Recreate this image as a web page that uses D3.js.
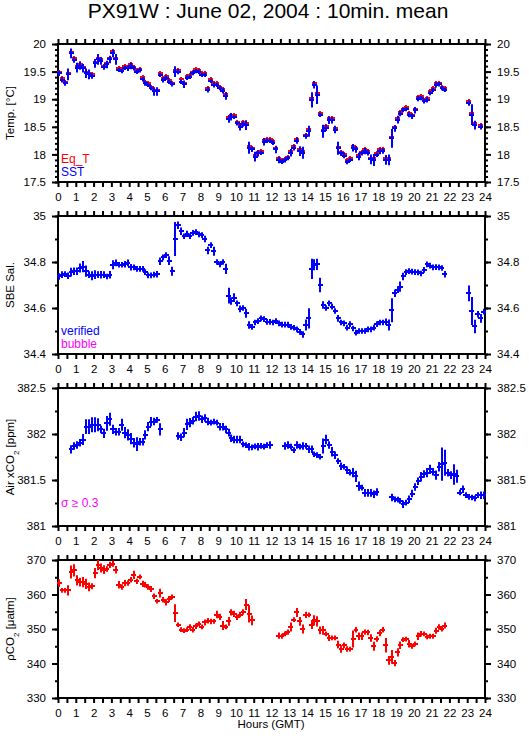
<!DOCTYPE html>
<html lang="en">
<head>
<meta charset="UTF-8">
<title>PX91W : June 02, 2004 : 10min. mean</title>
<script src="https://d3js.org/d3.v7.min.js"></script>
<style>
  body { margin: 0; background: #fff; }
  svg { display: block; font-family: "Liberation Sans", Arial, sans-serif; }
  .axis line { stroke: #000; stroke-width: 2; }
  .axis text { font-size: 11.5px; fill: #000; }
</style>
</head>
<body>
<svg id="chart"></svg>
<script>
// 10-minute means, 144 per day (null = no data)
const sst = [
  19.47, 19.35, 19.29, 19.45, 19.83, 19.71, 19.57, 19.61, 19.56, 19.47, 19.45, 19.42,
  19.65, 19.72, 19.69, 19.58, 19.63, 19.72, 19.83, 19.72, 19.53, 19.51, 19.57, 19.56,
  19.60, 19.56, 19.50, 19.52, 19.36, 19.29, 19.26, 19.20, 19.14, 19.14, 19.44, 19.35,
  19.39, 19.32, 19.27, 19.50, 19.50, 19.32, 19.27, 19.39, 19.41, 19.47, 19.51, 19.50,
  19.44, 19.44, 19.17, 19.33, 19.26, 19.26, 19.20, 19.15, 19.06, 18.64, 18.68, 18.68,
  18.56, 18.50, 18.55, 18.53, 18.12, 18.09, 17.96, 18.02, 18.03, 18.23, 18.25, 18.25,
  18.21, 18.09, 17.90, 17.87, 17.89, 17.93, 18.03, 18.12, 18.25, 18.06, 18.03, 18.33,
  18.42, 18.99, 19.26, 19.08, 18.72, 18.42, 18.48, 18.62, 18.62, 18.45, 18.11, 18.02,
  17.98, 17.86, 17.90, 18.12, 18.09, 17.96, 18.02, 18.06, 18.03, 17.91, 17.90, 17.99,
  18.06, 18.06, 17.90, 17.90, 18.29, 18.47, 18.63, 18.74, 18.80, 18.82, 18.72, 18.69,
  18.80, 19.01, 19.02, 18.96, 18.99, 19.11, 19.17, 19.26, 19.27, 19.20, 19.17, null,
  null, null, null, null, null, null, 18.93, 18.72, 18.53, null, 18.50, null
];
const sstSd = [
  0.03, 0.03, 0.03, 0.09, 0.07, 0.03, 0.07, 0.06, 0.06, 0.07, 0.07, 0.03,
  0.06, 0.08, 0.05, 0.03, 0.05, 0.05, 0.05, 0.08, 0.02, 0.02, 0.02, 0.03,
  0.04, 0.02, 0.02, 0.02, 0.02, 0.03, 0.02, 0.02, 0.06, 0.06, 0.02, 0.03,
  0.02, 0.02, 0.02, 0.08, 0.03, 0.02, 0.05, 0.02, 0.02, 0.02, 0.02, 0.02,
  0.02, 0.02, 0.03, 0.02, 0.03, 0.02, 0.02, 0.03, 0.05, 0.05, 0.05, 0.02,
  0.02, 0.05, 0.03, 0.07, 0.09, 0.03, 0.07, 0.04, 0.02, 0.05, 0.02, 0.02,
  0.02, 0.05, 0.04, 0.02, 0.02, 0.02, 0.05, 0.03, 0.04, 0.07, 0.09, 0.03,
  0.08, 0.12, 0.05, 0.15, 0.02, 0.10, 0.04, 0.05, 0.04, 0.05, 0.10, 0.03,
  0.03, 0.02, 0.02, 0.05, 0.04, 0.05, 0.02, 0.04, 0.03, 0.07, 0.09, 0.02,
  0.04, 0.03, 0.07, 0.08, 0.15, 0.04, 0.05, 0.03, 0.02, 0.02, 0.03, 0.03,
  0.04, 0.03, 0.02, 0.02, 0.03, 0.02, 0.02, 0.03, 0.02, 0.02, 0.02, 0,
  0, 0, 0, 0, 0, 0, 0.03, 0.17, 0.06, 0, 0.03, 0
];
const eqT = [
  19.50, 19.38, 19.31, 19.47, 19.86, 19.74, 19.60, 19.64, 19.59, 19.50, 19.48, 19.45,
  19.68, 19.75, 19.72, 19.61, 19.66, 19.75, 19.87, 19.75, 19.56, 19.54, 19.60, 19.59,
  19.63, 19.59, 19.53, 19.55, 19.40, 19.32, 19.29, 19.23, 19.17, 19.17, 19.48, 19.38,
  19.42, 19.35, 19.30, 19.53, 19.53, 19.36, 19.30, 19.42, 19.44, 19.50, 19.54, 19.53,
  19.47, 19.47, 19.21, 19.36, 19.29, 19.29, 19.23, 19.18, 19.09, 18.67, 18.71, 18.71,
  18.59, 18.53, 18.58, 18.56, 18.15, 18.12, 17.99, 18.05, 18.06, 18.26, 18.28, 18.28,
  18.24, 18.12, 17.93, 17.90, 17.92, 17.96, 18.06, 18.15, 18.28, 18.10, 18.06, 18.36,
  18.46, 19.03, 19.30, 19.12, 18.75, 18.45, 18.51, 18.66, 18.66, 18.48, 18.14, 18.05,
  18.01, 17.89, 17.93, 18.15, 18.12, 17.99, 18.05, 18.10, 18.06, 17.94, 17.93, 18.02,
  18.09, 18.09, 17.93, 17.93, 18.32, 18.50, 18.66, 18.77, 18.83, 18.85, 18.75, 18.72,
  18.83, 19.04, 19.05, 18.99, 19.02, 19.14, 19.20, 19.29, 19.30, 19.23, 19.20, null,
  null, null, null, null, null, null, 18.96, 18.75, 18.56, null, 18.53, null
];
const salinity = [
  34.737, 34.745, 34.747, 34.740, 34.756, 34.760, 34.760, 34.774, 34.780, 34.760, 34.745, 34.740,
  34.745, 34.745, 34.745, 34.745, 34.737, 34.745, 34.788, 34.796, 34.788, 34.788, 34.790, 34.796,
  34.777, 34.777, 34.770, 34.770, 34.770, 34.756, 34.742, 34.742, 34.745, 34.747, 34.803, 34.820,
  34.830, 34.806, 34.760, 34.900, 34.960, 34.934, 34.912, 34.923, 34.912, 34.927, 34.930, 34.920,
  34.917, 34.900, 34.850, 34.873, 34.847, 34.800, 34.790, 34.800, 34.770, 34.654, 34.630, 34.645,
  34.620, 34.596, 34.600, 34.577, 34.526, 34.518, 34.537, 34.543, 34.555, 34.552, 34.540, 34.540,
  34.537, 34.543, 34.533, 34.528, 34.528, 34.528, 34.518, 34.514, 34.507, 34.496, 34.485, 34.526,
  34.555, 34.770, 34.788, 34.790, 34.700, 34.613, 34.600, 34.620, 34.606, 34.587, 34.555, 34.537,
  34.533, 34.515, 34.530, 34.511, 34.493, 34.500, 34.500, 34.500, 34.507, 34.507, 34.515, 34.530,
  34.537, 34.537, 34.540, 34.526, 34.590, 34.664, 34.680, 34.693, 34.737, 34.756, 34.760, 34.758,
  34.756, 34.755, 34.750, 34.766, 34.790, 34.784, 34.777, 34.778, 34.777, 34.774, 34.747, null,
  null, null, null, null, null, null, 34.664, 34.587, 34.520, 34.573, 34.555, 34.584
];
const salinitySd = [
  0.010, 0.010, 0.008, 0.010, 0.015, 0.012, 0.012, 0.015, 0.020, 0.020, 0.010, 0.015,
  0.015, 0.010, 0.012, 0.010, 0.008, 0.012, 0.015, 0.010, 0.008, 0.008, 0.010, 0.010,
  0.010, 0.008, 0.008, 0.008, 0.008, 0.008, 0.008, 0.008, 0.008, 0.010, 0.012, 0.008,
  0.008, 0.015, 0.015, 0.070, 0.012, 0.012, 0.008, 0.008, 0.008, 0.008, 0.008, 0.008,
  0.008, 0.010, 0.012, 0.008, 0.015, 0.008, 0.008, 0.008, 0.018, 0.030, 0.012, 0.015,
  0.008, 0.010, 0.008, 0.015, 0.012, 0.008, 0.008, 0.008, 0.008, 0.008, 0.008, 0.008,
  0.008, 0.008, 0.008, 0.008, 0.008, 0.008, 0.008, 0.008, 0.008, 0.008, 0.010, 0.020,
  0.040, 0.040, 0.020, 0.020, 0.027, 0.012, 0.008, 0.008, 0.008, 0.008, 0.010, 0.008,
  0.008, 0.008, 0.008, 0.008, 0.008, 0.008, 0.008, 0.008, 0.008, 0.008, 0.008, 0.008,
  0.008, 0.008, 0.010, 0.020, 0.048, 0.012, 0.010, 0.018, 0.012, 0.008, 0.008, 0.008,
  0.008, 0.008, 0.008, 0.008, 0.008, 0.008, 0.008, 0.008, 0.008, 0.008, 0.010, 0,
  0, 0, 0, 0, 0, 0, 0.030, 0.057, 0.025, 0.010, 0.015, 0.008
];
const airCO2 = [
  null, null, null, null, 381.833, 381.870, 381.880, 381.905, 381.940, 382.080, 382.080, 382.100,
  382.100, 382.100, 382.050, 382.007, 382.116, 382.160, 382.050, 382.025, 382.025, 382.100, 382.015, 381.990,
  381.950, 381.905, 381.890, 381.916, 381.916, 381.990, 382.080, 382.135, 382.135, 382.153, 382.050, null,
  null, null, null, null, 381.978, 381.964, 382.015, 382.105, 382.124, 382.145, 382.190, 382.196,
  382.160, 382.175, 382.135, 382.124, 382.135, 382.124, 382.080, 382.080, 382.050, 382.015, 381.953, 381.940,
  381.940, 381.940, 381.887, 381.880, 381.862, 381.855, 381.866, 381.862, 381.870, 381.862, 381.880, 381.880,
  null, null, null, null, 381.870, 381.880, 381.862, 381.825, 381.880, 381.862, 381.870, 381.870,
  381.833, 381.833, 381.780, 381.770, 381.753, 381.870, 381.940, 381.880, 381.807, 381.770, 381.705, 381.650,
  381.644, 381.607, 381.580, 381.580, 381.540, 381.433, 381.418, 381.360, 381.360, 381.360, 381.345, 381.370,
  null, null, null, null, 381.310, 381.290, 381.287, 381.273, 381.236, 381.255, 381.290, 381.353,
  381.425, 381.487, 381.535, 381.564, 381.580, 381.615, 381.590, 381.553, 381.644, 381.673, 381.687, 381.580,
  381.553, 381.560, 381.540, 381.364, 381.400, 381.335, 381.316, 381.310, 381.300, 381.335, 381.335, 381.335
];
const airCO2Sd = [
  0, 0, 0, 0, 0.035, 0.03, 0.03, 0.03, 0.05, 0.07, 0.07, 0.07,
  0.07, 0.06, 0.03, 0.04, 0.07, 0.06, 0.04, 0.03, 0.03, 0.055, 0.05, 0.05,
  0.05, 0.04, 0.065, 0.03, 0.03, 0.04, 0.04, 0.04, 0.03, 0.02, 0.055, 0,
  0, 0, 0, 0, 0.03, 0.03, 0.04, 0.05, 0.04, 0.03, 0.04, 0.04,
  0.03, 0.03, 0.03, 0.02, 0.02, 0.02, 0.03, 0.03, 0.03, 0.03, 0.03, 0.03,
  0.03, 0.03, 0.02, 0.02, 0.03, 0.02, 0.02, 0.03, 0.02, 0.02, 0.02, 0.03,
  0, 0, 0, 0, 0.03, 0.03, 0.02, 0.02, 0.03, 0.02, 0.03, 0.02,
  0.03, 0.03, 0.02, 0.02, 0.02, 0.07, 0.04, 0.03, 0.04, 0.03, 0.02, 0.03,
  0.02, 0.03, 0.02, 0.04, 0.05, 0.04, 0.02, 0.03, 0.03, 0.03, 0.03, 0.03,
  0, 0, 0, 0, 0.03, 0.02, 0.02, 0.02, 0.03, 0.02, 0.03, 0.03,
  0.03, 0.03, 0.04, 0.03, 0.04, 0.04, 0.03, 0.04, 0.04, 0.17, 0.13, 0.03,
  0.03, 0.10, 0.06, 0.02, 0.03, 0.02, 0.02, 0.02, 0.02, 0.02, 0.03, 0.03
];
const pCO2 = [
  363.3, 361.2, 361.2, 361.2, 366.5, 367.0, 364.1, 363.6, 363.6, 363.1, 362.2, 362.4,
  366.2, 368.5, 367.7, 367.2, 367.4, 368.6, 368.9, 367.2, 362.8, 362.2, 363.3, 363.3,
  364.3, 365.7, 363.8, 365.1, 363.1, 362.8, 362.2, 361.6, 359.5, 358.0, 360.4, 358.5,
  357.7, 358.7, 359.3, 354.6, 351.3, 349.8, 349.5, 349.8, 350.6, 349.8, 350.8, 351.5,
  350.6, 351.9, 352.4, 352.2, 352.2, 354.2, 353.5, 351.0, 350.6, 352.2, 354.8, 354.4,
  353.4, 354.2, 354.9, 357.1, 354.4, 352.5, null, null, null, null, null, null,
  null, null, 348.1, 347.9, 348.6, 349.1, 350.6, 352.7, 354.8, 352.2, 350.0, 354.1,
  354.1, 351.3, 352.5, 352.2, 349.6, 349.6, 348.6, 347.4, 347.4, 347.4, 345.5, 344.2,
  345.3, 344.2, 344.2, 347.1, 349.8, 347.9, 347.9, 349.1, 349.0, 347.4, 345.0, 347.1,
  348.8, 349.8, 345.3, 340.9, 341.9, 340.1, 343.2, 345.3, 346.9, 347.1, 345.7, 345.0,
  345.7, 347.9, 348.6, 348.6, 347.7, 347.9, 347.9, 349.5, 350.6, 350.0, 351.0, null,
  null, null, null, null, null, null, null, null, null, null, null, null
];
const pCO2Sd = [
  0.8, 0.4, 0.4, 1.2, 1.6, 1.5, 1.2, 1.0, 1.2, 1.2, 1.0, 0.6,
  1.2, 1.2, 1.0, 1.0, 0.5, 0.6, 0.6, 0.8, 0.8, 0.5, 0.6, 0.5,
  0.5, 0.9, 0.5, 0.4, 0.6, 0.5, 0.5, 0.6, 0.5, 0.3, 1.0, 0.5,
  0.6, 0.6, 0.4, 2.3, 0.3, 0.4, 0.4, 0.4, 0.5, 0.5, 0.5, 0.4,
  0.4, 0.6, 0.5, 0.5, 0.4, 0.8, 0.6, 1.0, 0.4, 1.0, 0.6, 0.6,
  0.5, 0.5, 0.5, 1.3, 2.2, 1.1, 0, 0, 0, 0, 0, 0,
  0, 0, 0.6, 0.4, 0.4, 0.5, 1.0, 0.4, 1.0, 1.0, 1.0, 0.6,
  0.4, 1.0, 1.2, 1.2, 0.8, 1.0, 0.4, 0.6, 0.4, 0.4, 0.8, 0.8,
  0.5, 0.5, 0.4, 2.2, 0.5, 0.8, 0.8, 0.5, 0.5, 0.8, 1.0, 0.5,
  0.6, 0.5, 1.8, 1.0, 1.7, 0.6, 0.9, 0.8, 0.4, 0.4, 0.8, 0.4,
  0.4, 0.8, 0.5, 0.4, 0.4, 0.4, 0.4, 0.6, 0.5, 0.4, 0.6, 0,
  0, 0, 0, 0, 0, 0, 0, 0, 0, 0, 0, 0
];

// axis ticks
const hourLabels = d3.range(0, 25);
const tempTicks = [17.5, 18, 18.5, 19, 19.5, 20];
const salTicks = [34.4, 34.6, 34.8, 35];
const airTicks = [381, 381.5, 382, 382.5];
const pco2Ticks = [330, 340, 350, 360, 370];

const times = d3.range(144).map(i => (i + 0.5) / 6);
const width = 529, height = 739;
const panelH = 138;

const svg = d3.select("#chart").attr("width", width).attr("height", height);
const x = d3.scaleLinear().domain([0, 24]).range([58, 485]);

svg.append("text")
    .attr("x", 268).attr("y", 18)
    .attr("text-anchor", "middle")
    .style("font-size", "21px")
    .text("PX91W : June 02, 2004 : 10min. mean");

const panels = [
    {
        top: 44, domain: [17.5, 20], major: tempTicks, minorStep: 0.1,
        title: [["Temp. [°C]"]],
        series: [
            { values: eqT, sd: null, color: "#ff0000" },
            { values: sst, sd: sstSd, color: "#0000ff" }
        ],
        legend: [["Eq_T", "#ff0000"], ["SST", "#0000ff"]]
    },
    {
        top: 216, domain: [34.4, 35], major: salTicks, minorStep: 0.1,
        title: [["SBE Sal."]],
        series: [{ values: salinity, sd: salinitySd, color: "#0000ff" }],
        legend: [["verified", "#0000ff"], ["bubble", "#ff00ff"]]
    },
    {
        top: 388, domain: [381, 382.5], major: airTicks, minorStep: 0.25,
        title: [["Air xCO"], ["2", "sub"], [" [ppm]"]],
        series: [{ values: airCO2, sd: airCO2Sd, color: "#0000ff" }],
        legend: [["σ ≥ 0.3", "#ff00ff"]]
    },
    {
        top: 560, domain: [330, 370], major: pco2Ticks, minorStep: 5,
        title: [["ρCO"], ["2", "sub"], [" [μatm]"]],
        series: [{ values: pCO2, sd: pCO2Sd, color: "#ff0000" }],
        legend: []
    }
];

panels.forEach(p => {
    const bottom = p.top + panelH;
    const y = d3.scaleLinear().domain(p.domain).range([bottom, p.top]);
    const minor = d3.range(p.domain[0], p.domain[1] + p.minorStep / 2, p.minorStep);
    const g = svg.append("g");

    // x axes (top without labels, bottom with hours)
    g.append("g").attr("class", "axis")
        .attr("transform", `translate(0,${p.top})`)
        .call(d3.axisTop(x).tickValues(d3.range(0, 24.01, 0.5)).tickSize(5).tickFormat(""))
        .call(a => a.select(".domain").remove());
    g.append("g").attr("class", "axis")
        .attr("transform", `translate(0,${bottom})`)
        .call(d3.axisBottom(x).tickValues(d3.range(0, 24.01, 0.5)).tickSize(5).tickPadding(6)
            .tickFormat(d => hourLabels.includes(d) ? d : ""))
        .call(a => a.select(".domain").remove());

    // y axes, minor then major
    [[d3.axisLeft, 58], [d3.axisRight, 485]].forEach(([axisFn, px]) => {
        g.append("g").attr("class", "axis")
            .attr("transform", `translate(${px},0)`)
            .call(axisFn(y).tickValues(minor).tickSize(3).tickFormat(""))
            .call(a => a.select(".domain").remove());
        g.append("g").attr("class", "axis")
            .attr("transform", `translate(${px},0)`)
            .call(axisFn(y).tickValues(p.major).tickSize(6)
                .tickPadding(axisFn === d3.axisLeft ? 6 : 6)
                .tickFormat(d => String(d)))
            .call(a => a.select(".domain").remove());
    });

    // frame
    g.append("rect")
        .attr("x", x(0)).attr("y", p.top)
        .attr("width", x(24) - x(0)).attr("height", panelH)
        .attr("fill", "none").attr("stroke", "#000").attr("stroke-width", 2);

    // data marks: error bar + 10-minute bar
    p.series.forEach(s => {
        const pts = s.values.map((v, i) => ({ t: times[i], v: v, sd: s.sd ? s.sd[i] : 0 }))
            .filter(d => d.v !== null);
        const mg = g.append("g")
            .attr("stroke", s.color).attr("stroke-width", 2).attr("stroke-linecap", "square");
        mg.selectAll(".vbar").data(pts).join("line")
            .attr("x1", d => Math.round(x(d.t))).attr("x2", d => Math.round(x(d.t)))
            .attr("y1", d => Math.min(y(d.v + d.sd), Math.round(y(d.v)) - 1))
            .attr("y2", d => Math.max(y(d.v - d.sd), Math.round(y(d.v)) + 1));
        mg.selectAll(".hbar").data(pts).join("line")
            .attr("x1", d => Math.round(x(d.t - 1 / 12))).attr("x2", d => Math.round(x(d.t + 1 / 12)))
            .attr("y1", d => Math.round(y(d.v))).attr("y2", d => Math.round(y(d.v)));
    });

    // legend texts, bottom-left inside the frame
    p.legend.forEach((l, k) => {
        g.append("text")
            .attr("x", 61)
            .attr("y", bottom - 19 + k * 13)
            .attr("fill", l[1])
            .style("font-size", "12px")
            .text(l[0]);
    });

    // y title
    const t = g.append("text")
        .attr("transform", `translate(14,${p.top + panelH / 2}) rotate(-90)`)
        .attr("text-anchor", "middle")
        .style("font-size", "11.5px");
    p.title.forEach(part => {
        const ts = t.append("tspan").text(part[0]);
        if (part[1] === "sub") ts.attr("baseline-shift", "sub").style("font-size", "8px");
    });
});

svg.append("text")
    .attr("x", 271).attr("y", 728)
    .attr("text-anchor", "middle")
    .style("font-size", "11.5px")
    .text("Hours (GMT)");
</script>
</body>
</html>
